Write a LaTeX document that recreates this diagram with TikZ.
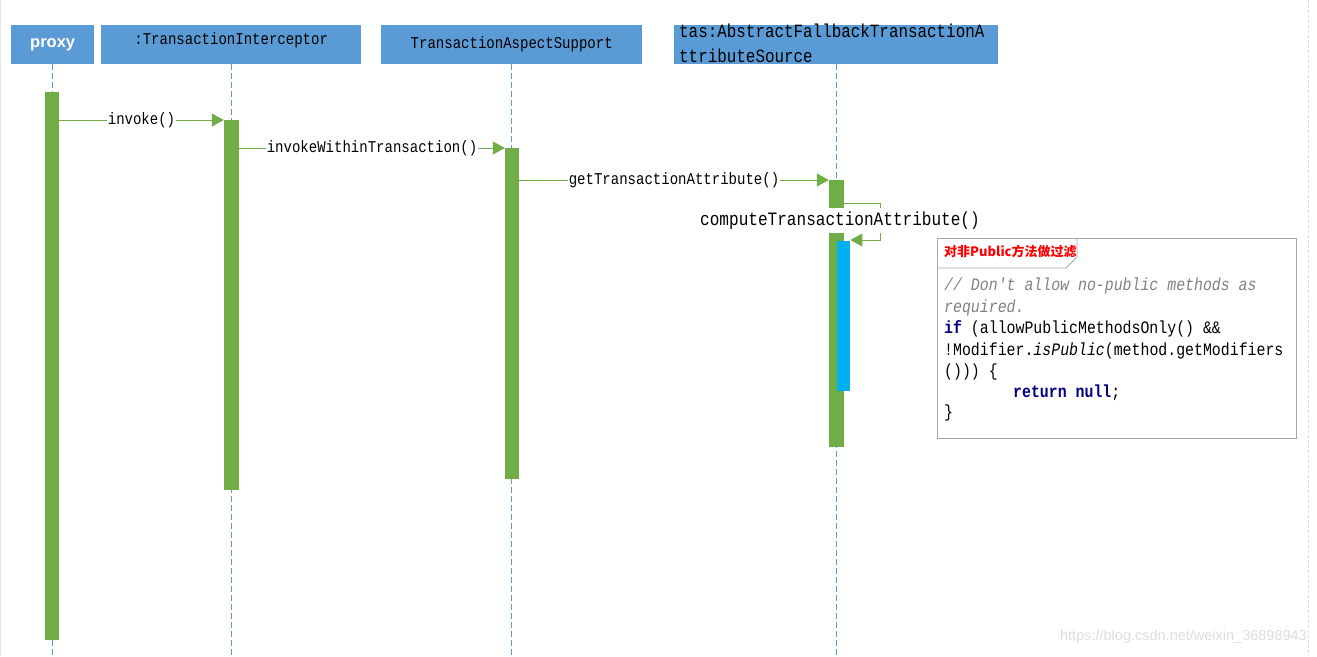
\documentclass[tikz,border=0pt]{standalone}
\usepackage{fontspec}
\setmainfont{Liberation Sans}
\setmonofont{Liberation Mono}
\newfontfamily\cmono[FakeStretch=0.85]{Liberation Mono}
\newfontfamily\cjk{Noto Sans CJK SC}
\usetikzlibrary{arrows.meta,calc}
\definecolor{hdr}{HTML}{5B9BD5}
\definecolor{grn}{HTML}{70AD47}
\definecolor{act}{HTML}{00B0F0}
\definecolor{kw}{HTML}{000080}
\definecolor{cmt}{HTML}{808080}
\definecolor{wm}{HTML}{DDDDDD}
\definecolor{notebd}{HTML}{A6A6A6}
\tikzset{
  header/.style={fill=hdr, draw=none, minimum height=39pt, inner sep=0pt, anchor=north west},
  lifeline/.style={draw=hdr, dash pattern=on 6pt off 3pt, line width=0.8pt},
  bar/.style={fill=grn, draw=none, inner sep=0pt, anchor=north},
  msg/.style={draw=grn, line width=1pt, -{Triangle[length=12pt,width=13pt]}},
  mlabel/.style={fill=white, inner sep=1pt, font=\cmono\fontsize{16.5}{18}\selectfont},
  codeline/.style={anchor=base west, inner sep=0pt, font=\cmono\fontsize{17.5}{20}\selectfont},
}
\begin{document}
\begin{tikzpicture}[x=1pt,y=-1pt]
\useasboundingbox (0,0) rectangle (1317,656);
\draw[wm, line width=0.8pt, dash pattern=on 3pt off 2pt] (1308,0) coordinate (bt) -- (1308,656) coordinate (bb);
\draw[wm!70, line width=0.8pt] (0.5,0) coordinate (lt) -- (0.5,656) coordinate (lb);

% headers
\node[header, minimum width=83pt] (proxy) at (11,25) {};
\node[font=\bfseries\fontsize{16.5}{18}\selectfont, text=white] at (proxy.center) {proxy};
\node[header, minimum width=260pt] (ti) at (101,25) {};
\node[font=\cmono\fontsize{16.5}{18}\selectfont] at ($(ti.center)+(0,-4)$) {:TransactionInterceptor};
\node[header, minimum width=261pt] (tas) at (381,25) {};
\node[font=\cmono\fontsize{16.5}{18}\selectfont] at (tas.center) {TransactionAspectSupport};
\node[header, minimum width=324pt] (src) at (674,25) {};
\node[anchor=west, inner sep=0pt, font=\cmono\fontsize{18.7}{20}\selectfont] at (679,31) {tas:AbstractFallbackTransactionA};
\node[anchor=west, inner sep=0pt, font=\cmono\fontsize{18.7}{20}\selectfont] at (679,56) {ttributeSource};

% lifelines
\coordinate (pe) at (proxy.south |- 0,656);
\coordinate (tie) at (ti.south |- 0,656);
\coordinate (tase) at (tas.south |- 0,656);
\coordinate (srce) at (src.south |- 0,656);
\draw[lifeline] (proxy.south) -- (pe);
\draw[lifeline] (ti.south) -- (tie);
\draw[lifeline] (tas.south) -- (tase);
\draw[lifeline] (src.south) -- (srce);

% activation bars
\node[bar, minimum width=14pt, minimum height=548pt] (pbar) at (52,92) {};
\node[bar, minimum width=15pt, minimum height=370pt] (tibar) at (231.5,120) {};
\node[bar, minimum width=14pt, minimum height=331pt] (tasbar) at (512,148) {};
\node[bar, minimum width=15pt, minimum height=267pt] (srcbar) at (836.5,180) {};
\node[fill=act, inner sep=0pt, minimum width=13pt, minimum height=150pt, anchor=north west] (blue) at (837,241) {};

% messages
\draw[msg] (pbar.east |- tibar.north) -- node[mlabel] {invoke()} (tibar.north west);
\draw[msg] (tibar.east |- tasbar.north) -- node[mlabel] {invokeWithinTransaction()} (tasbar.north west);
\draw[msg] (tasbar.east |- srcbar.north) -- node[mlabel] {getTransactionAttribute()} (srcbar.north west);
\coordinate (s1) at (880,203);
\coordinate (s2) at (880,240);
\draw[msg] (srcbar.east |- s1) -- (s1) -- (s2) -- (blue.east |- s2);
\node[fill=white, inner xsep=1pt, inner ysep=0pt, minimum height=25pt, font=\cmono\fontsize{18.9}{20}\selectfont] (selflbl) at (840,220.5) {computeTransactionAttribute()};

% note
\node[draw=notebd, line width=0.8pt, minimum width=359pt, minimum height=200pt, anchor=north west, inner sep=0pt] (note) at (937,238) {};
\coordinate (t1) at (937,268);
\coordinate (t2) at (1066,268);
\coordinate (t3) at (1077,257);
\coordinate (t4) at (1077,238);
\draw[notebd, line width=0.8pt] (t1) -- (t2) -- (t3) -- (t4);
\node[anchor=west, inner sep=0pt, text=red, font=\cjk\bfseries\fontsize{13}{15}\selectfont] (tab) at (944,252) {对非Public方法做过滤};

\node[codeline, text=cmt] (c1) at (944,290) {\itshape // Don't allow no-public methods as};
\node[codeline, text=cmt] (c2) at (944,312) {\itshape required.};
\node[codeline] (c3) at (944,333) {\textcolor{kw}{\bfseries if} (allowPublicMethodsOnly() \&\&};
\node[codeline] (c4) at (944,355) {!Modifier.\textit{isPublic}(method.getModifiers};
\node[codeline] (c5) at (944,376) {())) \{};
\node[codeline] (c6) at (1013,397) {\textcolor{kw}{\bfseries return null};};
\node[codeline] (c7) at (944,417) {\}};

% watermark
\node[anchor=east, inner sep=0pt, text=wm, font=\fontsize{14.5}{16}\selectfont] (wmark) at (1307,637) {https://blog.csdn.net/weixin\_36898943};
\end{tikzpicture}
\end{document}
